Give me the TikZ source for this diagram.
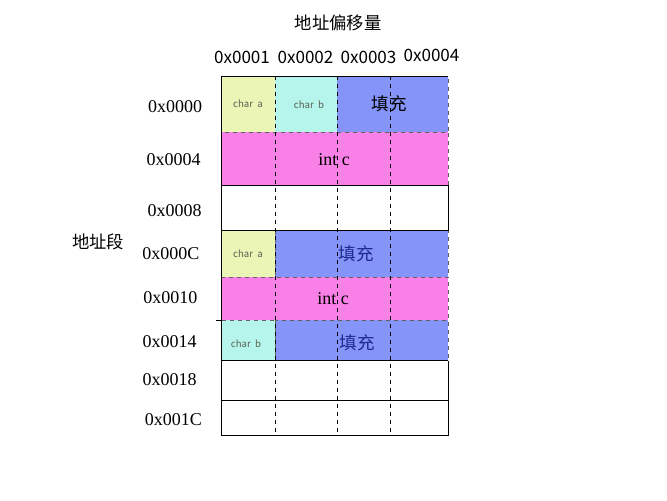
\documentclass[tikz,border=0pt]{standalone}
\usepackage{fontspec}
\setmainfont{Liberation Serif}
\newfontfamily\cjkf{Noto Sans CJK SC}
\begin{document}
\begin{tikzpicture}[x=0.75pt,y=-0.75pt,
  cjk/.style={inner sep=0pt,font=\cjkf\fontsize{13}{15}\selectfont},
  hexlab/.style={inner sep=0pt,font=\cjkf\fontsize{12.8}{15}\selectfont},
  rowlab/.style={inner sep=0pt,font=\fontsize{13.5}{16}\selectfont},
  small/.style={inner sep=0pt,text=smalltxt,font=\cjkf\fontsize{7.2}{9}\selectfont},
  fillt/.style={inner sep=0pt,font=\cjkf\fontsize{13.2}{15}\selectfont},
  intt/.style={inner sep=0pt,font=\fontsize{13.5}{16}\selectfont},
  cellb/.style={draw=cellgray,dashed,line width=0.6pt},
  grid/.style={draw=black,dashed,line width=0.6pt},
  solidl/.style={draw=black,line width=0.6pt}]
\definecolor{cyel}{HTML}{EBF5B6}
\definecolor{ccya}{HTML}{B5F5EC}
\definecolor{cblu}{HTML}{8494F8}
\definecolor{cpin}{HTML}{F880E6}
\definecolor{cellgray}{HTML}{606060}
\definecolor{smalltxt}{HTML}{5A6050}
\definecolor{dblue}{HTML}{1F2A8C}
\useasboundingbox (0,0) rectangle (667,500);
\fill[white] (0,0) rectangle (667,500);
% colored cells
\path[fill=cyel,cellb] (221,76) rectangle (275,132);
\path[fill=ccya,cellb] (275,76) rectangle (337,132);
\path[fill=cblu,cellb] (337,76) rectangle (448,132);
\path[fill=cpin,cellb] (221,132) rectangle (448,185);
\path[fill=cyel,cellb] (221,230.5) rectangle (275,277);
\path[fill=cblu,cellb] (275,230.5) rectangle (448,277);
\path[fill=cpin,cellb] (221,277) rectangle (448,320);
\path[fill=ccya,cellb] (221,320) rectangle (275,360.5);
\path[fill=cblu,cellb] (275,320) rectangle (448,360.5);
% dashed column lines
\coordinate (c1t) at (275,76); \coordinate (c1b) at (275,435.5);
\coordinate (c2t) at (337,76); \coordinate (c2b) at (337,435.5);
\coordinate (c3t) at (390,76); \coordinate (c3b) at (390,435.5);
\draw[grid] (c1t) -- (c1b);
\draw[grid] (c2t) -- (c2b);
\draw[grid] (c3t) -- (c3b);
% solid lines
\draw[solidl] (448,76) -- (221,76) -- (221,435.5) -- (448,435.5);
\draw[solidl] (448,185) -- (448,230.5);
\draw[solidl] (448,360.5) -- (448,435.5);
\draw[solidl] (221,185) -- (448,185);
\draw[solidl] (221,230.5) -- (448,230.5);
\draw[solidl] (216,320) -- (221,320);
\draw[solidl] (221,360.5) -- (448,360.5);
\draw[solidl] (221,400) -- (448,400);
% texts
\node[cjk] (title) at (338,22.5) {地址偏移量};
\node[hexlab] (h1) at (242,57) {0x0001};
\node[hexlab] (h2) at (305.5,57) {0x0002};
\node[hexlab] (h3) at (368.5,57) {0x0003};
\node[hexlab] (h4) at (431.5,55) {0x0004};
\node[cjk] (seg) at (98,241.5) {地址段};
\node[rowlab] (r0) at (175,106.5) {0x0000};
\node[rowlab] (r1) at (173.5,159.5) {0x0004};
\node[rowlab] (r2) at (174.5,210.5) {0x0008};
\node[rowlab] (r3) at (171,254) {0x000C};
\node[rowlab] (r4) at (170.3,298) {0x0010};
\node[rowlab] (r5) at (169.5,341.7) {0x0014};
\node[rowlab] (r6) at (169.5,380) {0x0018};
\node[rowlab] (r7) at (173.3,420) {0x001C};
\node[small] (ca1) at (248,103.5) {char\ \ a};
\node[small] (cb1) at (309,104.5) {char\ \ b};
\node[fillt] (f1) at (389.5,104) {填充};
\node[intt] (ic1) at (334,159.5) {int c};
\node[small] (ca2) at (248,254) {char\ \ a};
\node[fillt,text=dblue] (f2) at (356,254) {填充};
\node[intt] (ic2) at (333,299) {int c};
\node[small] (cb2) at (246,344) {char\ \ b};
\node[fillt,text=dblue] (f3) at (357,343) {填充};
\end{tikzpicture}
\end{document}
